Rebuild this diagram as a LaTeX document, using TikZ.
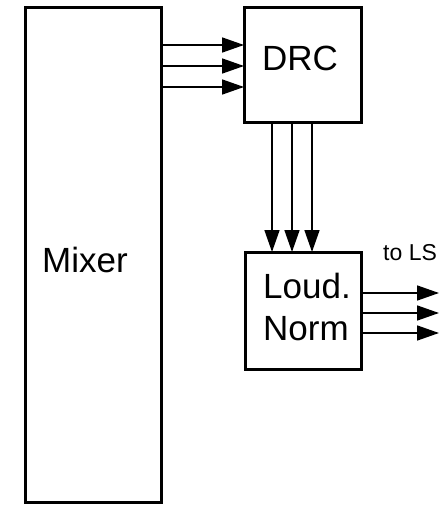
\documentclass[tikz,border=0pt]{standalone}
\usepackage{fontspec}
\setmainfont{Liberation Sans}
\usetikzlibrary{arrows.meta}
\begin{document}
\begin{tikzpicture}[x=1pt,y=-1pt,
  blockbox/.style={draw,line width=3pt,inner sep=0pt,outer sep=0pt,rectangle},
  bigtext/.style={font=\fontsize{35}{42}\selectfont,inner sep=0pt,anchor=base west},
  sig/.style={line width=1.6pt,-{Triangle[length=22pt,width=15pt]}}]
\useasboundingbox (0,0) rectangle (447,505);
\node[blockbox,minimum width=136pt,minimum height=494pt] (mixer) at (93,255) {};
\node[blockbox,minimum width=117pt,minimum height=115pt] (drc) at (302.5,65.5) {};
\node[blockbox,minimum width=116pt,minimum height=117pt] (loud) at (303,310.5) {};
\node[bigtext] (mixert) at (42,272) {Mixer};
\node[bigtext] (drct) at (262,71) {DRC};
\node[bigtext,align=left,anchor=base west] (loudt) at (263,340) {Loud.\\Norm};
\node[font=\fontsize{23}{27}\selectfont,inner sep=0pt,anchor=base west] (ls) at (383,260) {to LS};
\foreach \dy in {-20.5,0.5,21.5}{
  \draw[sig] ([yshift=-\dy pt]drc.west -| mixer.east) -- ([yshift=-\dy pt]drc.west);
}
\foreach \xx in {272,292,312}{
  \draw[sig] (drc.south -| \xx,0) -- (loud.north -| \xx,0);
}
\foreach \dy [count=\i] in {-17.5,2.5,22.5}{
  \coordinate (lsend\i) at ([yshift=-\dy pt]loud.east -| 439,0);
  \draw[sig] ([yshift=-\dy pt]loud.east) -- (lsend\i);
}
\end{tikzpicture}
\end{document}
